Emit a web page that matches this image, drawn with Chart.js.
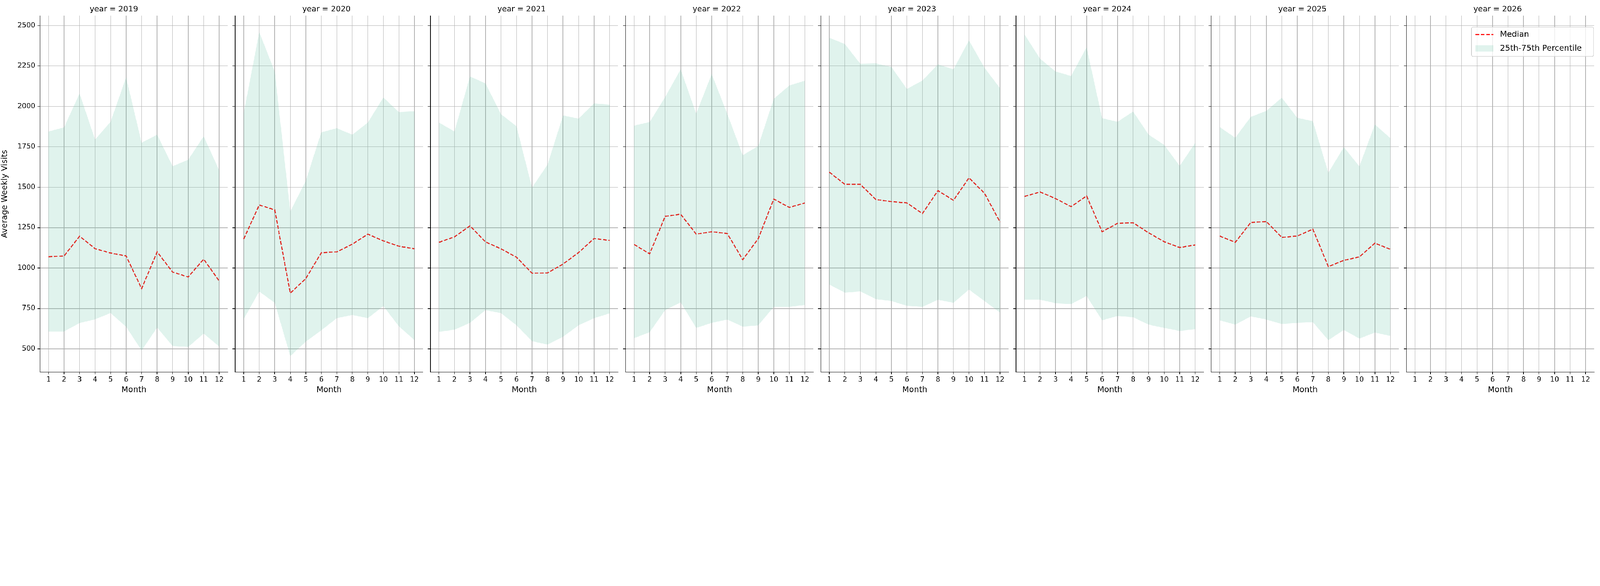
<!DOCTYPE html>
<html>
<head>
<meta charset="utf-8">
<script src="https://cdn.jsdelivr.net/npm/chart.js@4"></script>
<style>
  html, body { margin: 0; background: #fff; overflow: hidden; }
  #wrap { position: relative; width: 6000px; height: 1500px; transform-origin: 0 0; }
  #wrap canvas { position: absolute; top: 0; }
</style>
</head>
<body>
<div id="wrap"></div>
<script>
const years = [2019, 2020, 2021, 2022, 2023, 2024, 2025, 2026];
const months = [1, 2, 3, 4, 5, 6, 7, 8, 9, 10, 11, 12];
const yTicks = [500, 750, 1000, 1250, 1500, 1750, 2000, 2250, 2500];

// median per year
const median = {
  2019: [1070, 1075, 1197, 1120, 1093, 1075, 873, 1100, 975, 945, 1055, 920],
  2020: [1180, 1390, 1360, 845, 935, 1095, 1100, 1148, 1210, 1168, 1135, 1120],
  2021: [1159, 1193, 1261, 1162, 1119, 1067, 968, 970, 1025, 1096, 1183, 1171],
  2022: [1146, 1088, 1320, 1333, 1210, 1225, 1214, 1052, 1182, 1427, 1375, 1403],
  2023: [1593, 1518, 1518, 1424, 1411, 1403, 1337, 1479, 1419, 1558, 1463, 1285],
  2024: [1443, 1471, 1430, 1380, 1446, 1225, 1277, 1280, 1218, 1163, 1127, 1143],
  2025: [1198, 1159, 1282, 1288, 1190, 1198, 1241, 1009, 1048, 1069, 1154, 1116],
  2026: []
};
// 25th percentile
const p25 = {
  2019: [608, 608, 660, 683, 722, 637, 490, 632, 518, 512, 595, 515],
  2020: [685, 855, 785, 455, 545, 615, 690, 710, 690, 765, 640, 555],
  2021: [606, 619, 661, 740, 721, 646, 548, 527, 575, 646, 690, 720],
  2022: [567, 603, 740, 788, 630, 661, 682, 638, 646, 760, 760, 772],
  2023: [898, 848, 856, 808, 796, 767, 760, 804, 785, 867, 796, 725],
  2024: [804, 804, 783, 777, 827, 677, 704, 696, 650, 630, 611, 622],
  2025: [677, 650, 701, 682, 654, 661, 666, 554, 617, 564, 601, 580],
  2026: []
};
// 75th percentile
const p75 = {
  2019: [1845, 1870, 2080, 1795, 1905, 2180, 1775, 1825, 1630, 1670, 1815, 1605],
  2020: [1960, 2460, 2215, 1350, 1540, 1840, 1865, 1825, 1900, 2055, 1965, 1970],
  2021: [1900, 1845, 2185, 2142, 1952, 1877, 1498, 1640, 1944, 1924, 2019, 2011],
  2022: [1881, 1903, 2058, 2229, 1955, 2200, 1955, 1698, 1755, 2047, 2129, 2159],
  2023: [2424, 2386, 2263, 2266, 2244, 2108, 2160, 2260, 2229, 2408, 2239, 2113],
  2024: [2445, 2295, 2216, 2188, 2366, 1927, 1905, 1968, 1825, 1762, 1632, 1774],
  2025: [1872, 1806, 1935, 1972, 2054, 1929, 1909, 1590, 1748, 1629, 1888, 1803],
  2026: []
};

const FILL = 'rgba(102, 194, 165, 0.2)';
const GRID = '#b0b0b0';
const FONT = "'DejaVu Sans', sans-serif";

// fit the 6000px-wide layout into the actual viewport
const wrap = document.getElementById('wrap');
wrap.style.transform = 'scale(' + (window.innerWidth / 6000) + ')';

// legend drawn inside the last panel (upper right)
const insideLegend = {
  id: 'insideLegend',
  afterDraw(chart) {
    const { ctx, chartArea } = chart;
    const w = 458, h = 110;
    const x = chartArea.right - w - 2, y = chartArea.top + 43;
    ctx.save();
    ctx.fillStyle = 'rgba(255,255,255,0.8)';
    ctx.strokeStyle = '#cccccc';
    ctx.lineWidth = 2;
    ctx.beginPath();
    ctx.roundRect(x, y, w, h, 6);
    ctx.fill();
    ctx.stroke();
    ctx.strokeStyle = 'red';
    ctx.lineWidth = 4;
    ctx.setLineDash([14, 6]);
    ctx.beginPath();
    ctx.moveTo(x + 15, y + 28);
    ctx.lineTo(x + 82, y + 28);
    ctx.stroke();
    ctx.setLineDash([]);
    ctx.fillStyle = FILL;
    ctx.fillRect(x + 15, y + 68, 67, 24);
    ctx.fillStyle = '#000';
    ctx.font = '30px ' + FONT;
    ctx.textBaseline = 'middle';
    ctx.fillText('Median', x + 107, y + 28);
    ctx.fillText('25th-75th Percentile', x + 107, y + 80);
    ctx.restore();
  }
};

const plotW = 704, step = 732, firstLeft = 150;

years.forEach((yr, i) => {
  const first = i === 0;
  const padLeft = first ? 150 : 20;
  const cv = document.createElement('canvas');
  const cw = padLeft + plotW + 2;
  cv.width = cw; cv.height = 1500;
  cv.style.width = cw + 'px'; cv.style.height = '1500px';
  cv.style.left = (firstLeft + i * step - padLeft) + 'px';
  wrap.appendChild(cv);

  const pts = arr => arr.map((v, k) => ({ x: months[k], y: v }));

  new Chart(cv.getContext('2d'), {
    type: 'line',
    data: {
      datasets: [
        { label: 'p25', data: pts(p25[yr]), borderWidth: 0, pointRadius: 0, fill: false, borderColor: 'transparent' },
        { label: '25th-75th Percentile', data: pts(p75[yr]), borderWidth: 0, pointRadius: 0, fill: '-1', backgroundColor: FILL, borderColor: 'transparent' },
        { label: 'Median', data: pts(median[yr]), borderColor: 'red', borderWidth: 4, borderDash: [14, 6], pointRadius: 0, fill: false, tension: 0 }
      ]
    },
    options: {
      responsive: false,
      animation: false,
      layout: { padding: { top: 0, right: 2, left: 0, bottom: 0 } },
      plugins: {
        legend: { display: false },
        tooltip: { enabled: false },
        title: {
          display: true,
          text: 'year = ' + yr,
          color: '#000',
          font: { family: FONT, size: 29, weight: 'normal' },
          padding: { top: 18, bottom: 6 }
        }
      },
      scales: {
        x: {
          type: 'linear',
          min: 0.45, max: 12.55,
          afterBuildTicks: s => { s.ticks = months.map(v => ({ value: v })); },
          afterFit: s => { s.height = 105; },
          ticks: { color: '#000', font: { family: FONT, size: 26 }, padding: 6, maxRotation: 0, autoSkip: false, callback: v => String(v) },
          grid: { color: GRID, lineWidth: 2, tickLength: 8, tickColor: '#000' },
          border: { display: true, color: '#000', width: 2 },
          title: { display: true, text: 'Month', color: '#000', font: { family: FONT, size: 30 }, padding: { top: 0, bottom: 20 } }
        },
        y: {
          min: 357, max: 2561,
          afterBuildTicks: s => { s.ticks = yTicks.map(v => ({ value: v })); },
          afterFit: s => { s.width = padLeft; },
          ticks: { display: first, color: '#000', font: { family: FONT, size: 26 }, padding: 8, callback: v => String(v) },
          grid: { color: GRID, lineWidth: 2, tickLength: 10, tickColor: '#000' },
          border: { display: true, color: '#000', width: 2 },
          title: { display: first, text: 'Average Weekly Visits', color: '#000', font: { family: FONT, size: 30 }, padding: { top: 0, bottom: 10 } }
        }
      }
    },
    plugins: i === years.length - 1 ? [insideLegend] : []
  });
});
</script>
</body>
</html>
